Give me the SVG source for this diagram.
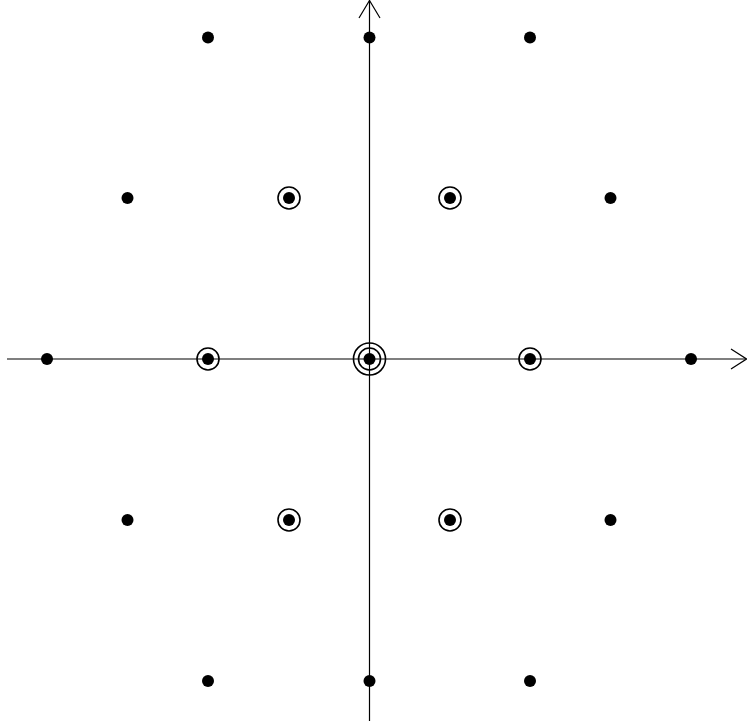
<svg xmlns="http://www.w3.org/2000/svg" width="747" height="725" viewBox="0 0 747 725">
<style>
.ax{stroke:#000;stroke-width:1.2;fill:none}
.dot{fill:#000}
.ring{fill:none;stroke:#000;stroke-width:1.6}
</style>
<rect width="747" height="725" fill="#fff"/>
<g id="connectors">
<path class="ax" d="M7,359 H746"/>
<path class="ax" d="M731,349 L746.5,359 L731,369"/>
<path class="ax" d="M369.5,721 V0.5"/>
<path class="ax" d="M359,18 L369.5,0.5 L380,18"/>
</g>
<g id="rings">
<circle class="ring" cx="369.5" cy="359" r="16"/>
<circle class="ring" cx="369.5" cy="359" r="11"/>
<circle class="ring" cx="208" cy="359" r="11"/>
<circle class="ring" cx="530" cy="359" r="11"/>
<circle class="ring" cx="289" cy="198" r="11"/>
<circle class="ring" cx="450" cy="198" r="11"/>
<circle class="ring" cx="289" cy="520" r="11"/>
<circle class="ring" cx="450" cy="520" r="11"/>
</g>
<g id="dots">
<circle class="dot" cx="208" cy="37.5" r="6"/>
<circle class="dot" cx="369.5" cy="37.5" r="6"/>
<circle class="dot" cx="530" cy="37.5" r="6"/>
<circle class="dot" cx="127.5" cy="198" r="6"/>
<circle class="dot" cx="289" cy="198" r="6"/>
<circle class="dot" cx="450" cy="198" r="6"/>
<circle class="dot" cx="610.5" cy="198" r="6"/>
<circle class="dot" cx="47" cy="359" r="6"/>
<circle class="dot" cx="208" cy="359" r="6"/>
<circle class="dot" cx="369.5" cy="359" r="6"/>
<circle class="dot" cx="530" cy="359" r="6"/>
<circle class="dot" cx="691" cy="359" r="6"/>
<circle class="dot" cx="127.5" cy="520" r="6"/>
<circle class="dot" cx="289" cy="520" r="6"/>
<circle class="dot" cx="450" cy="520" r="6"/>
<circle class="dot" cx="610.5" cy="520" r="6"/>
<circle class="dot" cx="208" cy="681" r="6"/>
<circle class="dot" cx="369.5" cy="681" r="6"/>
<circle class="dot" cx="530" cy="681" r="6"/>
</g>
</svg>
